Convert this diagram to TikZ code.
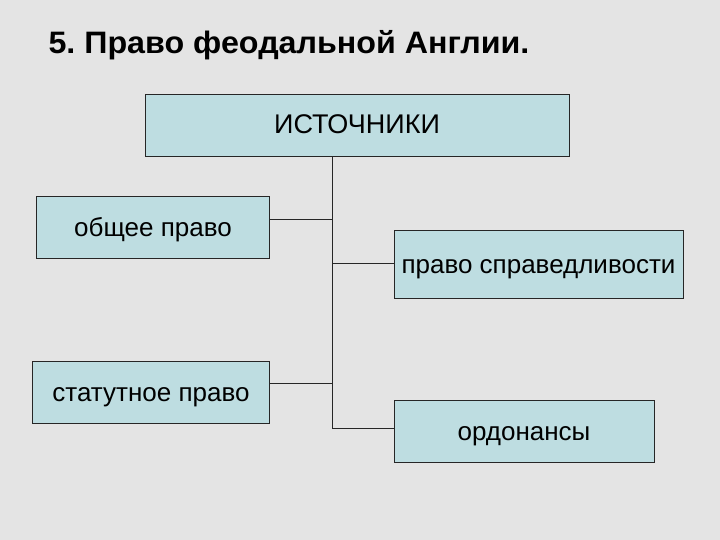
\documentclass[tikz,border=0pt]{standalone}
\usepackage{fontspec}
\setmainfont{Liberation Sans}
\definecolor{bgray}{HTML}{E4E4E4}
\definecolor{boxblue}{HTML}{BEDDE1}
\frenchspacing
\begin{document}
\begin{tikzpicture}[x=1pt, y=-1pt,
  src/.style={rectangle, minimum width=424pt, minimum height=62pt,
              text centered, font=\fontsize{27}{31}\selectfont,
              text height=19pt, text depth=1pt,
              draw=black!85, line width=0.8pt, fill=boxblue},
  branch/.style={rectangle, minimum height=62pt, text centered,
                 font=\fontsize{26}{30}\selectfont,
                 text height=19pt, text depth=1pt,
                 draw=black!85, line width=0.8pt, fill=boxblue},
  link/.style={draw=black!85, line width=0.8pt},
]
\fill[bgray] (0,0) rectangle (720,540);
\useasboundingbox (0,0) rectangle (720,540);
\node[font=\bfseries\fontsize{31}{35}\selectfont\addfontfeature{FakeStretch=1.04}, anchor=base west] (title) at (45,54) {5. Право феодальной Англии.};
\node[src] (top) at (357,125) {ИСТОЧНИКИ};
\node[branch, minimum width=233pt] (n1) at (153,227.5) {общее право};
\node[branch, minimum width=289pt, minimum height=68pt] (n2) at (538.5,264) {право справедливости};
\node[branch, minimum width=237pt] (n3) at (151,392) {статутное право};
\node[branch, minimum width=260pt] (n4) at (524,431) {ордонансы};
\coordinate (c1) at (332,219);
\coordinate (c2) at (332,263);
\coordinate (c3) at (332,383);
\coordinate (c4) at (332,428);
\draw[link] (top.south -| c1) -- (c4);
\draw[link] (c1) -- (c1 -| n1.east); \draw[link] (c2) -- (c2 -| n2.west);
\draw[link] (c3) -- (c3 -| n3.east); \draw[link] (c4) -- (c4 -| n4.west);
\end{tikzpicture}
\end{document}
